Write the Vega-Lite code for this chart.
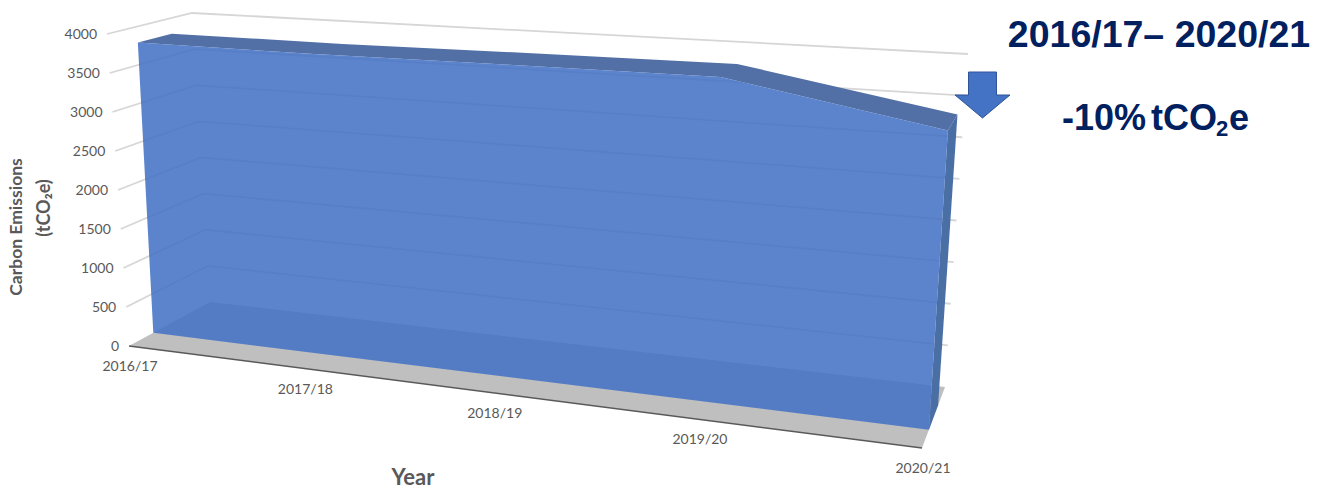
{"$schema":"https://vega.github.io/schema/vega-lite/v6.json","width":1329,"height":489,"padding":0,"autosize":{"type":"none"},"background":"white","config":{"view":{"stroke":null}},
"datasets":{"model":[
{"part":"grid","level":4000,"seq":1,"year":"2016/17","emissions":4000,"depth":0},{"part":"grid","level":4000,"seq":2,"year":"2016/17","emissions":4000,"depth":1},{"part":"grid","level":4000,"seq":3,"year":"2020/21","emissions":4000,"depth":1},
{"part":"grid","level":3500,"seq":1,"year":"2016/17","emissions":3500,"depth":0},{"part":"grid","level":3500,"seq":2,"year":"2016/17","emissions":3500,"depth":1},{"part":"grid","level":3500,"seq":3,"year":"2020/21","emissions":3500,"depth":1},
{"part":"grid","level":3000,"seq":1,"year":"2016/17","emissions":3000,"depth":0},{"part":"grid","level":3000,"seq":2,"year":"2016/17","emissions":3000,"depth":1},{"part":"grid","level":3000,"seq":3,"year":"2020/21","emissions":3000,"depth":1},
{"part":"grid","level":2500,"seq":1,"year":"2016/17","emissions":2500,"depth":0},{"part":"grid","level":2500,"seq":2,"year":"2016/17","emissions":2500,"depth":1},{"part":"grid","level":2500,"seq":3,"year":"2020/21","emissions":2500,"depth":1},
{"part":"grid","level":2000,"seq":1,"year":"2016/17","emissions":2000,"depth":0},{"part":"grid","level":2000,"seq":2,"year":"2016/17","emissions":2000,"depth":1},{"part":"grid","level":2000,"seq":3,"year":"2020/21","emissions":2000,"depth":1},
{"part":"grid","level":1500,"seq":1,"year":"2016/17","emissions":1500,"depth":0},{"part":"grid","level":1500,"seq":2,"year":"2016/17","emissions":1500,"depth":1},{"part":"grid","level":1500,"seq":3,"year":"2020/21","emissions":1500,"depth":1},
{"part":"grid","level":1000,"seq":1,"year":"2016/17","emissions":1000,"depth":0},{"part":"grid","level":1000,"seq":2,"year":"2016/17","emissions":1000,"depth":1},{"part":"grid","level":1000,"seq":3,"year":"2020/21","emissions":1000,"depth":1},
{"part":"grid","level":500,"seq":1,"year":"2016/17","emissions":500,"depth":0},{"part":"grid","level":500,"seq":2,"year":"2016/17","emissions":500,"depth":1},{"part":"grid","level":500,"seq":3,"year":"2020/21","emissions":500,"depth":1},
{"part":"floor","seq":1,"year":"2016/17","emissions":0,"depth":0},{"part":"floor","seq":2,"year":"2020/21","emissions":0,"depth":0},{"part":"floor","seq":3,"year":"2020/21","emissions":0,"depth":1},{"part":"floor","seq":4,"year":"2016/17","emissions":0,"depth":1},
{"part":"edge","seq":1,"year":"2016/17","emissions":0,"depth":0},{"part":"edge","seq":2,"year":"2020/21","emissions":0,"depth":0},
{"part":"top","seq":1,"year":"2016/17","emissions":3790,"depth":0.35},{"part":"top","seq":2,"year":"2017/18","emissions":3810,"depth":0.3},{"part":"top","seq":3,"year":"2018/19","emissions":3835,"depth":0.3},{"part":"top","seq":4,"year":"2019/20","emissions":3855,"depth":0.3},{"part":"top","seq":5,"year":"2020/21","emissions":3415,"depth":0.3},
{"part":"top","seq":6,"year":"2020/21","emissions":3415,"depth":0.7},{"part":"top","seq":7,"year":"2019/20","emissions":3855,"depth":0.7},{"part":"top","seq":8,"year":"2018/19","emissions":3835,"depth":0.7},{"part":"top","seq":9,"year":"2017/18","emissions":3810,"depth":0.7},{"part":"top","seq":10,"year":"2016/17","emissions":3790,"depth":0.75},
{"part":"side","seq":1,"year":"2020/21","emissions":3415,"depth":0.3},{"part":"side","seq":2,"year":"2020/21","emissions":3415,"depth":0.7},{"part":"side","seq":3,"year":"2020/21","emissions":0,"depth":0.7},{"part":"side","seq":4,"year":"2020/21","emissions":0,"depth":0.3},
{"part":"front","seq":1,"year":"2016/17","emissions":3790,"depth":0.35},{"part":"front","seq":2,"year":"2017/18","emissions":3810,"depth":0.3},{"part":"front","seq":3,"year":"2018/19","emissions":3835,"depth":0.3},{"part":"front","seq":4,"year":"2019/20","emissions":3855,"depth":0.3},{"part":"front","seq":5,"year":"2020/21","emissions":3415,"depth":0.3},{"part":"front","seq":6,"year":"2020/21","emissions":0,"depth":0.3},{"part":"front","seq":7,"year":"2016/17","emissions":0,"depth":0.3},
{"part":"ylabel","year":"2016/17","emissions":4000,"depth":0},{"part":"ylabel","year":"2016/17","emissions":3500,"depth":0},{"part":"ylabel","year":"2016/17","emissions":3000,"depth":0},{"part":"ylabel","year":"2016/17","emissions":2500,"depth":0},{"part":"ylabel","year":"2016/17","emissions":2000,"depth":0},{"part":"ylabel","year":"2016/17","emissions":1500,"depth":0},{"part":"ylabel","year":"2016/17","emissions":1000,"depth":0},{"part":"ylabel","year":"2016/17","emissions":500,"depth":0},{"part":"ylabel","year":"2016/17","emissions":0,"depth":0},
{"part":"xlabel","year":"2016/17","emissions":0,"depth":0},{"part":"xlabel","year":"2017/18","emissions":0,"depth":0},{"part":"xlabel","year":"2018/19","emissions":0,"depth":0},{"part":"xlabel","year":"2019/20","emissions":0,"depth":0},{"part":"xlabel","year":"2020/21","emissions":0,"depth":0}
]},
"layer":[
{"data":{"name":"model"},
"transform":[
{"calculate":"indexof(['2016/17','2017/18','2018/19','2019/20','2020/21'],datum.year)/4","as":"t"},
{"calculate":"datum.t/(datum.t+1.174*(1-datum.t))","as":"s"},
{"calculate":"datum.emissions/4000","as":"b"},
{"calculate":"lerp([lerp([lerp([129,922],datum.s),lerp([107,944],datum.s)],datum.b),lerp([lerp([210,945],datum.s),lerp([192,968],datum.s)],datum.b)],datum.depth)","as":"px"},
{"calculate":"lerp([lerp([lerp([346,448],datum.s),lerp([34,90],datum.s)],datum.b),lerp([lerp([302,387],datum.s),lerp([13,54],datum.s)],datum.b)],datum.depth)","as":"py"}
],
"encoding":{"x":{"field":"px","type":"quantitative","scale":{"domain":[0,1329],"nice":false,"zero":false},"axis":null},"y":{"field":"py","type":"quantitative","scale":{"domain":[489,0],"nice":false,"zero":false},"axis":null}},
"layer":[
{"transform":[{"filter":"datum.part==='grid'"}],"mark":{"type":"line","stroke":"#d6d6d6","strokeWidth":1.8},"encoding":{"detail":{"field":"level"},"order":{"field":"seq"}}},
{"transform":[{"filter":"datum.part==='floor'"}],"mark":{"type":"line","filled":true,"fill":"#bfbfbf","strokeWidth":0},"encoding":{"order":{"field":"seq"}}},
{"transform":[{"filter":"datum.part==='edge'"}],"mark":{"type":"line","stroke":"#595959","strokeWidth":1.5},"encoding":{"order":{"field":"seq"}}},
{"transform":[{"filter":"datum.part==='top'"}],"mark":{"type":"line","filled":true,"fill":"#5270a6","strokeWidth":0},"encoding":{"order":{"field":"seq"}}},
{"transform":[{"filter":"datum.part==='side'"}],"mark":{"type":"line","filled":true,"fill":"#4a6fa5","strokeWidth":0},"encoding":{"order":{"field":"seq"}}},
{"transform":[{"filter":"datum.part==='front'"}],"mark":{"type":"line","filled":true,"fill":"#4472c4","fillOpacity":0.87,"strokeWidth":0},"encoding":{"order":{"field":"seq"}}},
{"transform":[{"filter":"datum.part==='ylabel'"}],"mark":{"type":"text","align":"right","baseline":"middle","dx":-10,"dy":1,"font":"Lato","fontSize":14,"fill":"#595959"},"encoding":{"text":{"field":"emissions","type":"nominal"}}},
{"transform":[{"filter":"datum.part==='xlabel'"}],"mark":{"type":"text","align":"center","baseline":"middle","dx":1,"dy":21,"font":"Lato","fontSize":14,"fill":"#595959"},"encoding":{"text":{"field":"year","type":"nominal"}}}
]},
{"data":{"values":[{"label":"Year"}]},"mark":{"type":"text","align":"center","baseline":"middle","font":"Lato","fontWeight":"bold","fontSize":22,"fill":"#595959"},"encoding":{"x":{"datum":413,"type":"quantitative"},"y":{"datum":478,"type":"quantitative"},"text":{"field":"label"}}},
{"data":{"values":[{"label":"Carbon Emissions"}]},"mark":{"type":"text","align":"center","baseline":"middle","angle":270,"font":"Lato","fontWeight":"bold","fontSize":17.5,"fill":"#595959"},"encoding":{"x":{"datum":17,"type":"quantitative"},"y":{"datum":227,"type":"quantitative"},"text":{"field":"label"}}},
{"data":{"values":[{"label":"(tCO₂e)"}]},"mark":{"type":"text","align":"center","baseline":"middle","angle":270,"font":"Lato","fontWeight":"bold","fontSize":18,"fill":"#595959"},"encoding":{"x":{"datum":45,"type":"quantitative"},"y":{"datum":208,"type":"quantitative"},"text":{"field":"label"}}},
{"data":{"values":[{"label":"2016/17– 2020/21"}]},"mark":{"type":"text","align":"center","baseline":"alphabetic","font":"Liberation Sans","fontWeight":"bold","fontSize":37.5,"fill":"#002060"},"encoding":{"x":{"datum":1159,"type":"quantitative"},"y":{"datum":47,"type":"quantitative"},"text":{"field":"label"}}},
{"data":{"values":[{"label":"-10%"}]},"mark":{"type":"text","align":"left","baseline":"alphabetic","font":"Liberation Sans","fontWeight":"bold","fontSize":36,"fill":"#002060"},"encoding":{"x":{"datum":1062,"type":"quantitative"},"y":{"datum":130,"type":"quantitative"},"text":{"field":"label"}}},
{"data":{"values":[{"label":"tCO"}]},"mark":{"type":"text","align":"left","baseline":"alphabetic","font":"Liberation Sans","fontWeight":"bold","fontSize":36,"fill":"#002060"},"encoding":{"x":{"datum":1151,"type":"quantitative"},"y":{"datum":130,"type":"quantitative"},"text":{"field":"label"}}},
{"data":{"values":[{"label":"2"}]},"mark":{"type":"text","align":"left","baseline":"alphabetic","font":"Liberation Sans","fontWeight":"bold","fontSize":22,"fill":"#002060"},"encoding":{"x":{"datum":1216,"type":"quantitative"},"y":{"datum":136,"type":"quantitative"},"text":{"field":"label"}}},
{"data":{"values":[{"label":"e"}]},"mark":{"type":"text","align":"left","baseline":"alphabetic","font":"Liberation Sans","fontWeight":"bold","fontSize":36,"fill":"#002060"},"encoding":{"x":{"datum":1229,"type":"quantitative"},"y":{"datum":130,"type":"quantitative"},"text":{"field":"label"}}},
{"data":{"values":[{"label":"change"}]},"mark":{"type":"point","filled":true,"shape":"M-0.509,-0.836 L0.509,-0.836 L0.509,0 L1,0 L0,0.836 L-1,0 L-0.509,0 Z","size":3025,"fill":"#4472c4","fillOpacity":1,"stroke":"#2f5597","strokeWidth":1},"encoding":{"x":{"datum":982.5,"type":"quantitative"},"y":{"datum":95,"type":"quantitative"}}}
]}
